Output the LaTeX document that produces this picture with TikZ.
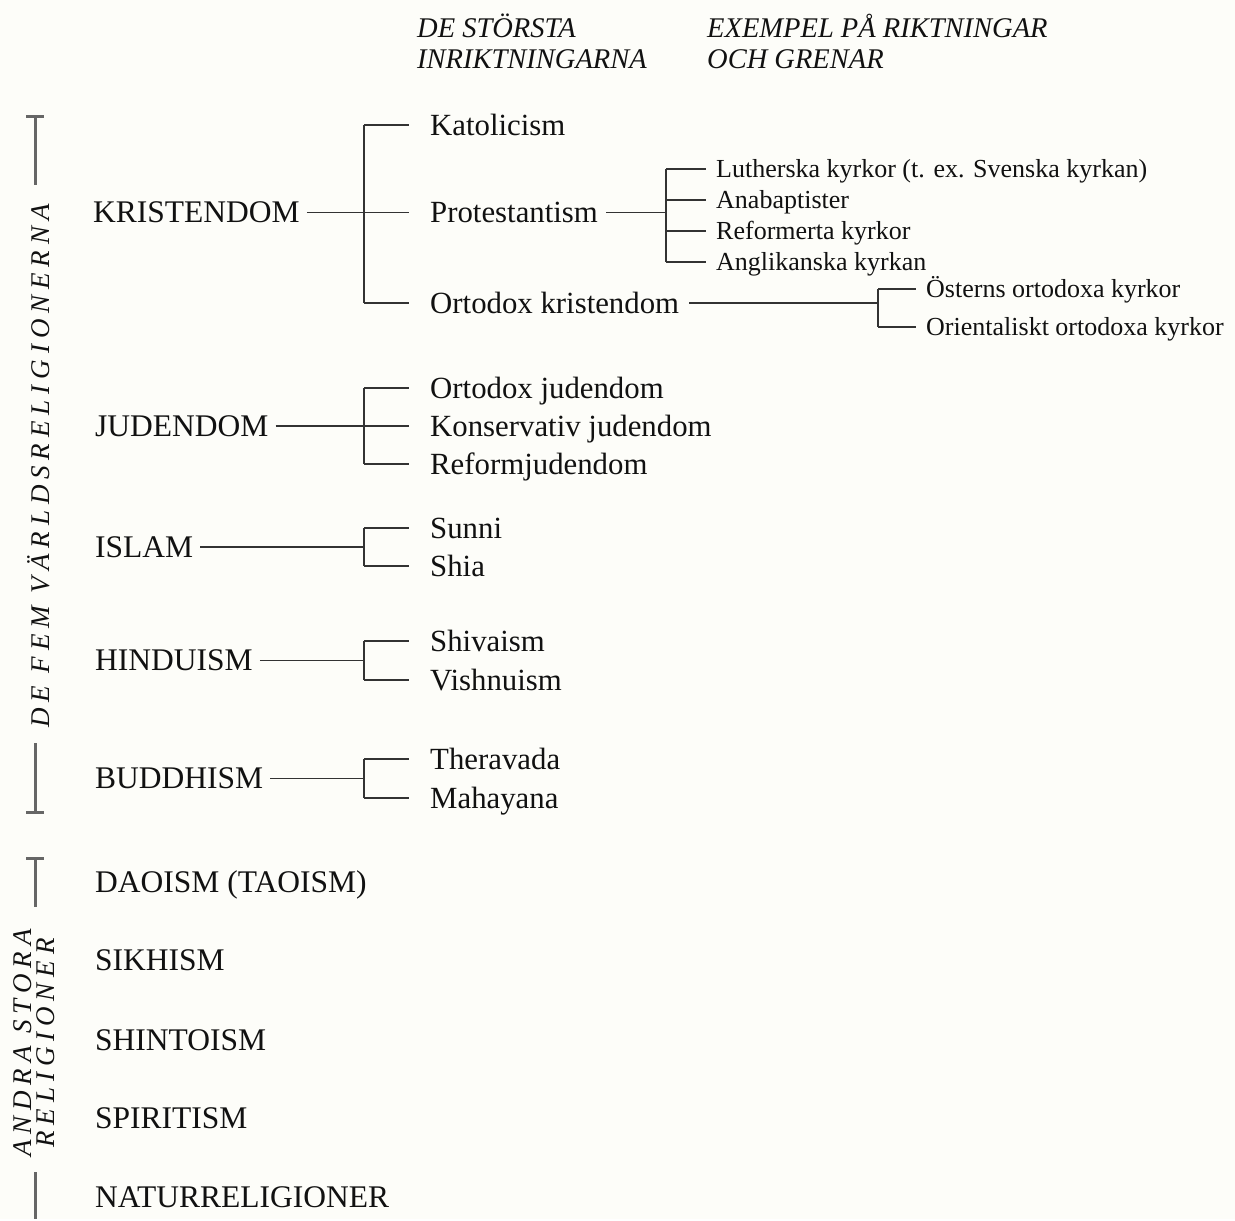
\documentclass[tikz,border=0pt]{standalone}
\usepackage{fontspec}
\setmainfont{Liberation Serif}
\definecolor{bgc}{HTML}{FDFDF9}
\definecolor{ink}{HTML}{111111}
\definecolor{connc}{HTML}{333333}
\definecolor{brkc}{HTML}{666666}
\begin{document}
\begin{tikzpicture}[x=1pt,y=-1pt,
 base/.style={inner sep=0pt, anchor=west, text=ink, text depth=0pt},
 rel/.style={base, font=\fontsize{31.5}{36}\selectfont, text height=20.8pt},
 sub/.style={base, font=\fontsize{30.8}{36}\selectfont, text height=20.4pt},
 small/.style={base, font=\fontsize{26}{30}\selectfont, text height=17.2pt},
 hdr/.style={inner sep=0pt, anchor=north west, align=left, text=ink, font=\fontsize{28.5}{31}\selectfont\itshape},
 vlab/.style={inner sep=0pt, rotate=90, text=ink, align=center, font=\fontsize{27}{23.5}\selectfont\itshape\addfontfeatures{LetterSpace=22}},
 ln/.style={draw=connc, line width=1.7pt},
 brkl/.style={draw=brkc, line width=3pt},
]
\path[fill=bgc] (0,0) rectangle (1235,1219);

% headers
\node[hdr] (h1) at (417,14) {DE STÖRSTA\\INRIKTNINGARNA};
\node[hdr] (h2) at (707,14) {EXEMPEL PÅ RIKTNINGAR\\OCH GRENAR};

% side labels
\node[vlab] (fem) at (39,466) {DE FEM VÄRLDSRELIGIONERNA};
\node[vlab] (andra) at (34,1043) {ANDRA STORA\\RELIGIONER};
\draw[brkl] (26,116) -- (44,116);
\draw[brkl] (35,116) -- (35,185);
\draw[brkl] (35,743) -- (35,812);
\draw[brkl] (26,812) -- (44,812);
\draw[brkl] (26,858) -- (44,858);
\draw[brkl] (35,858) -- (35,907);
\draw[brkl] (35,1172) -- (35,1219);

% Kristendom
\node[rel] (krist) at (93,212.5) {KRISTENDOM};
\node[sub] (kat) at (430,125) {Katolicism};
\node[sub] (prot) at (430,212.5) {Protestantism};
\node[sub] (ortk) at (430,303) {Ortodox kristendom};
\node[small] (luth) at (716,169) {Lutherska kyrkor (t. ex. Svenska kyrkan)};
\node[small] (ana) at (716,200) {Anabaptister};
\node[small] (refk) at (716,231) {Reformerta kyrkor};
\node[small] (angl) at (716,262) {Anglikanska kyrkan};
\node[small] (ost) at (926,289) {Österns ortodoxa kyrkor};
\node[small] (orient) at (926,327) {Orientaliskt ortodoxa kyrkor};

\coordinate (kx) at (364,0);
\draw[ln, shorten <=7pt, shorten >=21pt] (krist.east) -- (prot.west);
\draw[ln] (kx |- kat.west) -- (kx |- ortk.west);
\draw[ln, shorten >=21pt] (kx |- kat.west) -- (kat.west);
\draw[ln, shorten >=21pt] (kx |- ortk.west) -- (ortk.west);

\coordinate (px) at (666,0);
\draw[ln, shorten <=8pt] (prot.east) -- (px |- prot.west);
\draw[ln] (px |- luth.west) -- (px |- angl.west);
\foreach \c in {luth,ana,refk,angl}
  \draw[ln, shorten >=10pt] (px |- \c.west) -- (\c.west);

\coordinate (ox) at (878,0);
\draw[ln, shorten <=10pt] (ortk.east) -- (ox |- ortk.west);
\draw[ln] (ox |- ost.west) -- (ox |- orient.west);
\foreach \c in {ost,orient}
  \draw[ln, shorten >=10pt] (ox |- \c.west) -- (\c.west);

% Judendom
\node[rel] (jud) at (95,426) {JUDENDOM};
\node[sub] (ojud) at (430,388) {Ortodox judendom};
\node[sub] (kjud) at (430,426) {Konservativ judendom};
\node[sub] (rjud) at (430,464) {Reformjudendom};
\coordinate (jx) at (364,0);
\draw[ln, shorten <=7pt, shorten >=21pt] (jud.east) -- (kjud.west);
\draw[ln] (jx |- ojud.west) -- (jx |- rjud.west);
\foreach \c in {ojud,rjud}
  \draw[ln, shorten >=21pt] (jx |- \c.west) -- (\c.west);

% Islam
\node[rel] (islam) at (95,547) {ISLAM};
\node[sub] (sunni) at (430,528) {Sunni};
\node[sub] (shia) at (430,566) {Shia};
\draw[ln, shorten <=7pt] (islam.east) -- (jx |- islam.west);
\draw[ln] (jx |- sunni.west) -- (jx |- shia.west);
\foreach \c in {sunni,shia}
  \draw[ln, shorten >=21pt] (jx |- \c.west) -- (\c.west);

% Hinduism
\node[rel] (hind) at (95,660.5) {HINDUISM};
\node[sub] (shiv) at (430,641) {Shivaism};
\node[sub] (vish) at (430,680) {Vishnuism};
\draw[ln, shorten <=7pt] (hind.east) -- (jx |- hind.west);
\draw[ln] (jx |- shiv.west) -- (jx |- vish.west);
\foreach \c in {shiv,vish}
  \draw[ln, shorten >=21pt] (jx |- \c.west) -- (\c.west);

% Buddhism
\node[rel] (budd) at (95,778.5) {BUDDHISM};
\node[sub] (ther) at (430,759) {Theravada};
\node[sub] (maha) at (430,798) {Mahayana};
\draw[ln, shorten <=7pt] (budd.east) -- (jx |- budd.west);
\draw[ln] (jx |- ther.west) -- (jx |- maha.west);
\foreach \c in {ther,maha}
  \draw[ln, shorten >=21pt] (jx |- \c.west) -- (\c.west);

% other religions
\node[rel] (dao) at (95,882) {DAOISM (TAOISM)};
\node[rel] (sikh) at (95,960) {SIKHISM};
\node[rel] (shin) at (95,1040) {SHINTOISM};
\node[rel] (spir) at (95,1118) {SPIRITISM};
\node[rel] (natur) at (95,1197) {NATURRELIGIONER};
\end{tikzpicture}
\end{document}
